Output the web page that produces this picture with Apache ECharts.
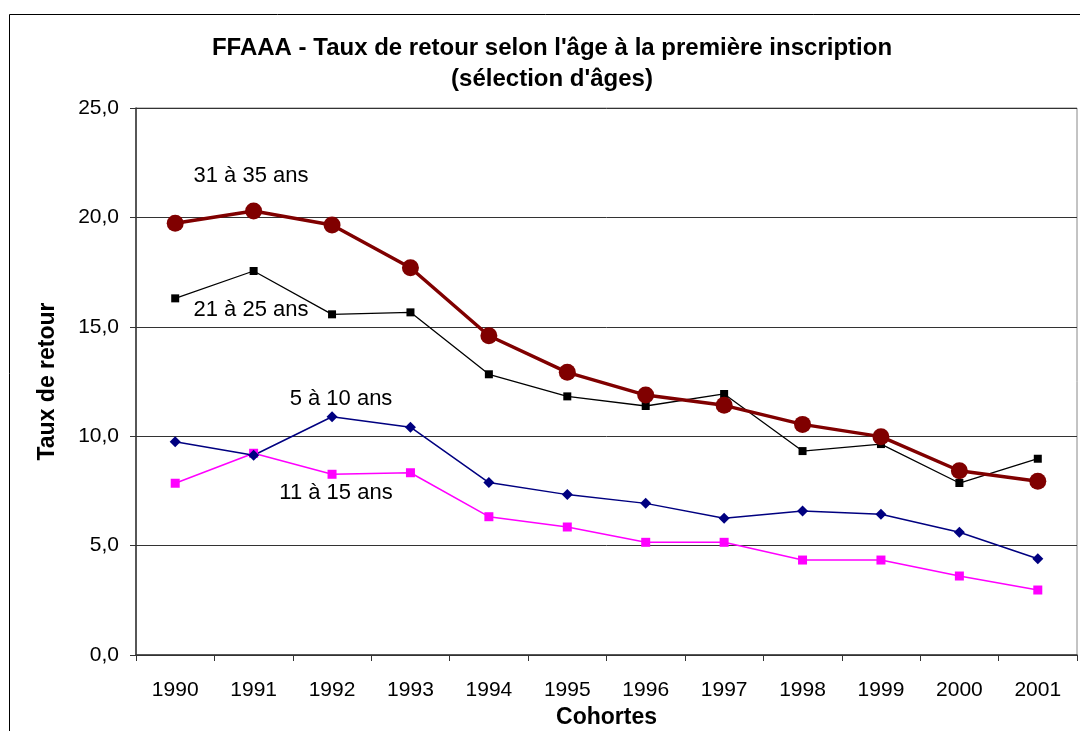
<!DOCTYPE html>
<html>
<head>
<meta charset="utf-8">
<script src="https://cdn.jsdelivr.net/npm/echarts@6/dist/echarts.min.js"></script>
<style>
html,body{margin:0;padding:0;background:#fff;}
#chart{width:1080px;height:731px;}
</style>
</head>
<body>
<div id="chart"></div>
<script>
const categories = ['1990','1991','1992','1993','1994','1995','1996','1997','1998','1999','2000','2001'];
const age31_35 = [19.73, 20.29, 19.65, 17.70, 14.59, 12.92, 11.88, 11.41, 10.54, 9.98, 8.42, 7.94];
const age21_25 = [16.30, 17.55, 15.57, 15.66, 12.83, 11.82, 11.38, 11.93, 9.32, 9.64, 7.86, 8.97];
const age5_10 = [9.75, 9.13, 10.89, 10.41, 7.88, 7.33, 6.93, 6.25, 6.58, 6.43, 5.61, 4.40];
const age11_15 = [7.85, 9.22, 8.26, 8.33, 6.32, 5.85, 5.15, 5.15, 4.34, 4.34, 3.61, 2.97];
const yTicks = [0, 5, 10, 15, 20, 25];

const FONT = '"Liberation Sans", Arial, sans-serif';
const chart = echarts.init(document.getElementById('chart'));
chart.setOption({
  animation: false,
  backgroundColor: '#fff',
  textStyle: { fontFamily: FONT },
  title: {
    text: "FFAAA - Taux de retour selon l'âge à la première inscription\n(sélection d'âges)",
    left: 547, top: 28, textAlign: 'center',
    textStyle: { fontFamily: FONT, fontWeight: 'bold', fontSize: 24, color: '#000', lineHeight: 31 }
  },
  grid: { left: 136, right: 3, top: 108, bottom: 76, show: true, borderColor: '#888', borderWidth: 1,
          containLabel: false, outerBoundsMode: 'none' },
  xAxis: {
    type: 'category', data: categories, boundaryGap: true,
    name: 'Cohortes', nameLocation: 'middle', nameGap: 49,
    nameTextStyle: { fontFamily: FONT, fontWeight: 'bold', fontSize: 23, color: '#000' },
    axisLine: { lineStyle: { color: '#333', width: 1.5 } },
    axisTick: { show: true, length: 6, alignWithLabel: false, lineStyle: { color: '#333' } },
    axisLabel: { fontFamily: FONT, fontSize: 21, color: '#000', margin: 25 }
  },
  yAxis: {
    type: 'value', min: yTicks[0], max: yTicks[yTicks.length - 1], interval: 5,
    name: 'Taux de retour', nameLocation: 'middle', nameGap: 77, nameRotate: 90,
    nameTextStyle: { fontFamily: FONT, fontWeight: 'bold', fontSize: 23, color: '#000' },
    axisLine: { show: true, lineStyle: { color: '#333', width: 1.5 } },
    axisTick: { show: true, length: 6, lineStyle: { color: '#333' } },
    axisLabel: { fontFamily: FONT, fontSize: 21, color: '#000', margin: 17,
      formatter: v => v.toFixed(1).replace('.', ',') },
    splitLine: { show: true, lineStyle: { color: '#333', width: 1 } }
  },
  series: [
    { name: '11 à 15 ans', type: 'line', data: age11_15, symbol: 'rect', symbolSize: 9,
      lineStyle: { color: '#ff00ff', width: 1.5 }, itemStyle: { color: '#ff00ff' } },
    { name: '5 à 10 ans', type: 'line', data: age5_10, symbol: 'diamond', symbolSize: 11,
      lineStyle: { color: '#000080', width: 1.5 }, itemStyle: { color: '#000080' } },
    { name: '21 à 25 ans', type: 'line', data: age21_25, symbol: 'rect', symbolSize: 8,
      lineStyle: { color: '#000', width: 1.3 }, itemStyle: { color: '#000' } },
    { name: '31 à 35 ans', type: 'line', data: age31_35, symbol: 'circle', symbolSize: 17,
      lineStyle: { color: '#800000', width: 3.5 }, itemStyle: { color: '#800000' } }
  ],
  graphic: [
    { type: 'rect', silent: true, shape: { x: 9.5, y: 14.5, width: 1200, height: 900 },
      style: { fill: 'none', stroke: '#000', lineWidth: 1 }, z: -10 },
    { type: 'text', x: 251, y: 176, style: { text: '31 à 35 ans', font: '22px ' + FONT, fill: '#000', align: 'center', verticalAlign: 'middle' } },
    { type: 'text', x: 251, y: 310, style: { text: '21 à 25 ans', font: '22px ' + FONT, fill: '#000', align: 'center', verticalAlign: 'middle' } },
    { type: 'text', x: 341, y: 399, style: { text: '5 à 10 ans', font: '22px ' + FONT, fill: '#000', align: 'center', verticalAlign: 'middle' } },
    { type: 'text', x: 336, y: 493, style: { text: '11 à 15 ans', font: '22px ' + FONT, fill: '#000', align: 'center', verticalAlign: 'middle' } }
  ]
});
</script>
</body>
</html>
